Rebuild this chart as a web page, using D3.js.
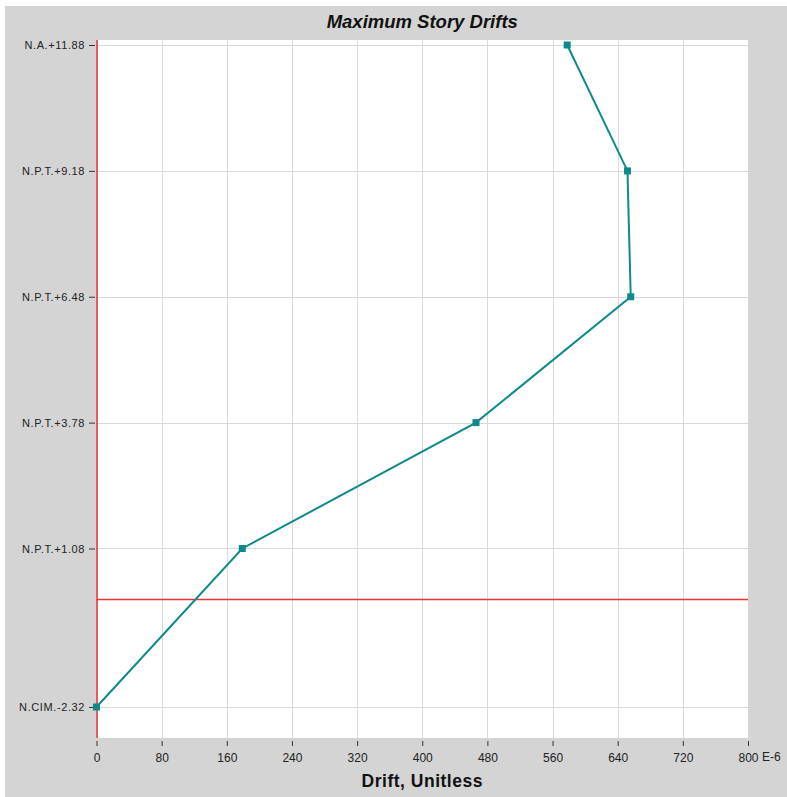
<!DOCTYPE html>
<html><head><meta charset="utf-8">
<script src="https://cdn.jsdelivr.net/npm/d3@7"></script>
<style>body{margin:0;background:#fff;}svg{display:block;}</style>
</head><body>
<script>
const levelLabels = ["N.A.+11.88","N.P.T.+9.18","N.P.T.+6.48","N.P.T.+3.78","N.P.T.+1.08","N.CIM.-2.32"];
const levelElev = [11.88, 9.18, 6.48, 3.78, 1.08, -2.32];
const driftValues = [578, 652, 656, 466, 179, 0];
const xTicks = [0,80,160,240,320,400,480,560,640,720,800];
const groundElev = 0;

(function(){
const W = 787, H = 797;
const FONT = "Liberation Sans, Arial, sans-serif";
const svg = d3.select("body").append("svg").attr("width", W).attr("height", H);
svg.append("rect").attr("x",5).attr("y",6).attr("width",W-5).attr("height",H-6).attr("fill","#d4d4d4");

const pL = 96.5, pR = 748, pT = 40, pB = 738;
const x = d3.scaleLinear().domain([0,800]).range([pL,pR]);
const y = d3.scaleLinear().domain([-2.32,11.88]).range([707,45]);

svg.append("rect").attr("x",pL).attr("y",pT).attr("width",pR-pL).attr("height",pB-pT).attr("fill","#fff");

// grid
svg.append("g").selectAll("line").data(xTicks.slice(1,-1)).join("line")
  .attr("x1",d=>Math.round(x(d))+0.5).attr("x2",d=>Math.round(x(d))+0.5)
  .attr("y1",pT).attr("y2",pB).attr("stroke","#d9d9d9").attr("stroke-width",1);
svg.append("g").selectAll("line").data(levelElev).join("line")
  .attr("x1",pL).attr("x2",pR)
  .attr("y1",d=>Math.round(y(d))+0.5).attr("y2",d=>Math.round(y(d))+0.5)
  .attr("stroke","#d9d9d9").attr("stroke-width",1);

// red reference lines
const red = svg.append("g");
red.append("line").attr("x1",pL).attr("x2",pR)
  .attr("y1",Math.round(y(groundElev))+0.5).attr("y2",Math.round(y(groundElev))+0.5)
  .style("stroke","#ee3333").style("stroke-width","1.3px");
red.append("line").attr("x1",x(0)+0.5).attr("x2",x(0)+0.5)
  .attr("y1",pT).attr("y2",pB).style("stroke","#ee3333").style("stroke-width","1.6px");

// x axis
const xAxis = d3.axisBottom(x).tickValues(xTicks).tickSize(5).tickPadding(7).tickFormat(d3.format("d"));
const gx = svg.append("g").attr("transform",`translate(0,${pB+3})`).call(xAxis);
gx.select(".domain").remove();
gx.selectAll(".tick line").attr("stroke","#333");
gx.selectAll("text").attr("font-family",FONT).attr("font-size",12).attr("fill","#222");
svg.append("text").attr("x",x(800)+14).attr("y",761).attr("font-family",FONT)
  .attr("font-size",12).attr("fill","#222").text("E-6");

// y axis
const yAxis = d3.axisLeft(y).tickValues(levelElev).tickSize(6).tickPadding(4)
  .tickFormat((d,i)=>levelLabels[i]);
const gy = svg.append("g").attr("transform",`translate(${pL-1.5},0)`).call(yAxis);
gy.select(".domain").remove();
gy.selectAll(".tick line").attr("stroke","#333");
gy.selectAll("text").attr("font-family",FONT).attr("font-size",11).attr("letter-spacing","0.6px").attr("fill","#222");

// title & axis title
svg.append("text").attr("x",(pL+pR)/2).attr("y",27.5).attr("text-anchor","middle")
  .attr("font-family",FONT).attr("font-size",18.5).attr("font-weight","bold")
  .attr("font-style","italic").attr("fill","#111").text("Maximum Story Drifts");
svg.append("text").attr("x",(pL+pR)/2).attr("y",786.5).attr("text-anchor","middle")
  .attr("font-family",FONT).attr("font-size",17.5).attr("font-weight","bold").attr("letter-spacing","0.5px")
  .attr("fill","#111").text("Drift, Unitless");

// line
const pts = driftValues.map((v,i)=>[x(v), y(levelElev[i])]);
svg.append("path").attr("d",d3.line()(pts)).attr("fill","none").attr("stroke","#0e8a8a").attr("stroke-width",2);
svg.append("g").selectAll("rect").data(pts).join("rect")
  .attr("x",d=>d[0]-3.5).attr("y",d=>d[1]-3.5).attr("width",7).attr("height",7).attr("fill","#0e8a8a");
})();
</script>
</body></html>
